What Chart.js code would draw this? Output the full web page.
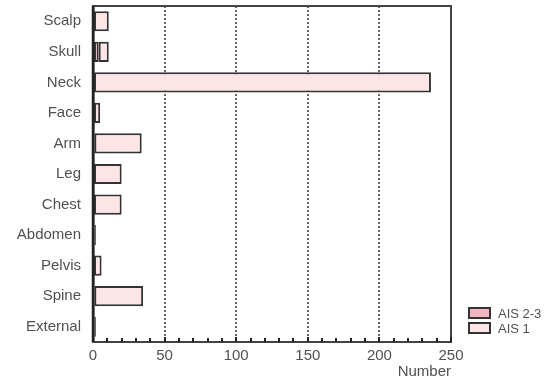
<!DOCTYPE html>
<html>
<head>
<meta charset="utf-8">
<script src="https://cdn.jsdelivr.net/npm/chart.js@4/dist/chart.umd.min.js"></script>
<style>
  html, body { margin: 0; padding: 0; background: #fff; }
  canvas { display: block; }
</style>
</head>
<body>
<canvas id="c" width="550" height="383"></canvas>
<script>
// Injury sites and counts by severity
const categories = ['Scalp', 'Skull', 'Neck', 'Face', 'Arm', 'Leg', 'Chest', 'Abdomen', 'Pelvis', 'Spine', 'External'];
const ais23 = [null, 4, null, null, 1, null, null, 1, null, 1, 1];
const ais1 = [11, 7, 236, 5, 33, 20, 20, 1, 6, 34, 1];
const xTicks = [0, 50, 100, 150, 200, 250];

const FONT = '"Liberation Sans", Arial, sans-serif';
const TEXT = '#505050';
const EDGE = '#333333';
const PINK_DARK = '#f3b4bf';
const PINK_LIGHT = '#fde4e6';

// Frame around the plot and small inward ticks on the value axis
const framePlugin = {
  id: 'frame',
  afterDraw(chart) {
    const { ctx, chartArea: a, scales } = chart;
    ctx.save();
    ctx.setLineDash([]);
    ctx.strokeStyle = '#444';
    ctx.lineWidth = 2;
    ctx.strokeRect(a.left, a.top, a.right - a.left, a.bottom - a.top);
    ctx.strokeStyle = '#222';
    ctx.lineWidth = 2.5;
    ctx.beginPath();
    ctx.moveTo(a.left, a.top);
    ctx.lineTo(a.left, a.bottom);
    ctx.stroke();
    ctx.lineWidth = 2;
    for (let v = 0; v <= 250; v += 10) {
      const x = Math.round(scales.x.getPixelForValue(v));
      const len = v % 50 === 0 ? 5 : 4;
      ctx.beginPath();
      ctx.moveTo(x, a.bottom);
      ctx.lineTo(x, a.bottom - len);
      ctx.stroke();
    }
    ctx.restore();
  }
};

// Legend drawn beside the lower right corner of the plot
const legendPlugin = {
  id: 'sideLegend',
  afterDraw(chart) {
    const { ctx, chartArea: a } = chart;
    const items = chart.data.datasets.map(d => ({ label: d.label, color: d.backgroundColor }));
    ctx.save();
    ctx.font = '13px ' + FONT;
    ctx.textBaseline = 'middle';
    items.forEach((it, i) => {
      const cy = a.bottom - 29 + i * 15;
      const bx = a.right + 18;
      ctx.fillStyle = it.color;
      ctx.fillRect(bx, cy - 5, 21, 10);
      ctx.strokeStyle = EDGE;
      ctx.lineWidth = 2;
      ctx.strokeRect(bx, cy - 5, 21, 10);
      ctx.fillStyle = TEXT;
      ctx.fillText(it.label, bx + 29, cy + 1);
    });
    ctx.restore();
  }
};

new Chart(document.getElementById('c'), {
  type: 'bar',
  data: {
    labels: categories,
    datasets: [
      {
        label: 'AIS 2-3',
        data: ais23,
        backgroundColor: PINK_DARK,
        borderColor: EDGE,
        borderWidth: 2,
        borderSkipped: false,
        barPercentage: 0.66,
        categoryPercentage: 1
      },
      {
        label: 'AIS 1',
        data: ais1,
        backgroundColor: PINK_LIGHT,
        borderColor: EDGE,
        borderWidth: 2,
        borderSkipped: false,
        barPercentage: 0.66,
        categoryPercentage: 1
      }
    ]
  },
  options: {
    indexAxis: 'y',
    responsive: false,
    animation: false,
    devicePixelRatio: 1,
    layout: { padding: { top: 6, right: 99, left: 0, bottom: 0 } },
    plugins: {
      legend: { display: false },
      tooltip: { enabled: false }
    },
    scales: {
      x: {
        stacked: true,
        min: 0,
        max: 250,
        afterBuildTicks(scale) { scale.ticks = xTicks.map(v => ({ value: v })); },
        afterFit(scale) { scale.height = 41; },
        ticks: { font: { family: FONT, size: 15 }, color: TEXT, padding: 5, maxRotation: 0 },
        grid: {
          drawTicks: false,
          color: ctx => (ctx.tick && (ctx.tick.value === 0 || ctx.tick.value === 250)) ? 'rgba(0,0,0,0)' : '#6a6a6a',
          lineWidth: 2
        },
        border: { display: true, color: '#222', width: 2, dash: [2, 2] },
        title: {
          display: true,
          text: 'Number',
          align: 'end',
          color: TEXT,
          font: { family: FONT, size: 15 },
          padding: { top: 0, bottom: 2 }
        }
      },
      y: {
        stacked: true,
        afterFit(scale) {
          scale.width = 93;
          scale.paddingTop = 0;
          scale.paddingBottom = 0;
        },
        ticks: { font: { family: FONT, size: 15 }, color: TEXT, padding: 12 },
        grid: { display: false, drawTicks: false },
        border: { display: true, color: '#222', width: 2.5 }
      }
    }
  },
  plugins: [framePlugin, legendPlugin]
});
</script>
</body>
</html>
